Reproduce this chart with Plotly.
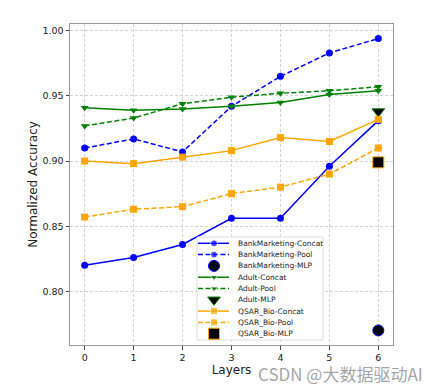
import plotly.graph_objects as go

layers = [0, 1, 2, 3, 4, 5, 6]
bank_concat = [0.820, 0.826, 0.836, 0.856, 0.856, 0.896, 0.931]
bank_pool = [0.910, 0.917, 0.907, 0.942, 0.965, 0.983, 0.994]
bank_mlp = 0.770
adult_concat = [0.941, 0.939, 0.940, 0.942, 0.945, 0.951, 0.954]
adult_pool = [0.927, 0.933, 0.944, 0.949, 0.952, 0.954, 0.957]
adult_mlp = 0.938
qsar_concat = [0.900, 0.898, 0.903, 0.908, 0.918, 0.915, 0.932]
qsar_pool = [0.857, 0.863, 0.865, 0.875, 0.880, 0.890, 0.910]
qsar_mlp = 0.899
y_ticks = [0.80, 0.85, 0.90, 0.95, 1.00]

BLUE, GREEN, ORANGE = "#0000ff", "#008000", "#ffa500"
DASH = "5px,2.5px"

# (name, values, colour, dash, symbol, kind)
series = [
    ("BankMarketing-Concat", bank_concat, BLUE, "solid", "circle", "line"),
    ("BankMarketing-Pool", bank_pool, BLUE, DASH, "circle", "line"),
    ("BankMarketing-MLP", bank_mlp, BLUE, None, "circle", "mlp"),
    ("Adult-Concat", adult_concat, GREEN, "solid", "triangle-down", "line"),
    ("Adult-Pool", adult_pool, GREEN, DASH, "triangle-down", "line"),
    ("Adult-MLP", adult_mlp, GREEN, None, "triangle-down", "mlp"),
    ("QSAR_Bio-Concat", qsar_concat, ORANGE, "solid", "square", "line"),
    ("QSAR_Bio-Pool", qsar_pool, ORANGE, DASH, "square", "line"),
    ("QSAR_Bio-MLP", qsar_mlp, ORANGE, None, "square", "mlp"),
]

fig = go.Figure()

for name, vals, color, dash, symbol, kind in series:
    if kind == "line":
        fig.add_trace(go.Scatter(
            x=layers, y=vals, name=name, mode="lines+markers", showlegend=False,
            line=dict(color=color, width=1.5, dash=dash),
            marker=dict(color=color, symbol=symbol, size=7),
        ))
    else:
        fig.add_trace(go.Scatter(
            x=[layers[-1]], y=[vals], name=name, mode="markers", showlegend=False,
            marker=dict(color="black", symbol=symbol, size=11,
                        line=dict(color=color, width=1)),
        ))

# ---- compact legend (overlay axes in pixel units of the plot area) ----
PX0, PX1, PY0, PY1 = 70, 393, 24, 345
box_x0, box_x1, box_y0, box_y1 = 197, 323, 237, 340
fig.add_trace(go.Scatter(
    x=[box_x0, box_x1, box_x1, box_x0, box_x0],
    y=[box_y0, box_y0, box_y1, box_y1, box_y0],
    xaxis="x2", yaxis="y2", mode="lines", fill="toself",
    fillcolor="rgba(255,255,255,0.85)", line=dict(color="#dcdcdc", width=1),
    showlegend=False, hoverinfo="skip",
))
row0, row_h = 243.3, 11.3
for i, (name, vals, color, dash, symbol, kind) in enumerate(series):
    yy = row0 + i * row_h
    if kind == "line":
        fig.add_trace(go.Scatter(
            x=[198, 214, 229], y=[yy, yy, yy], xaxis="x2", yaxis="y2",
            mode="lines+markers", showlegend=False, hoverinfo="skip",
            line=dict(color=color, width=1.5, dash=dash),
            marker=dict(color=color, symbol=symbol, size=[0, 7, 0]),
        ))
    else:
        fig.add_trace(go.Scatter(
            x=[214], y=[yy], xaxis="x2", yaxis="y2", mode="markers",
            showlegend=False, hoverinfo="skip",
            marker=dict(color="black", symbol=symbol, size=11,
                        line=dict(color=color, width=1)),
        ))
    fig.add_annotation(text=name, xref="x2", yref="y2", x=236, y=yy,
                       xanchor="left", yanchor="middle", showarrow=False,
                       font=dict(size=7.5, color="#222", family="DejaVu Sans"))

axis_common = dict(
    showgrid=True, gridcolor="#d3d3d3", griddash="3px,2px", gridwidth=1,
    showline=True, linecolor="#999999", linewidth=1, mirror=True,
    ticks="outside", ticklen=3.5, tickcolor="#444", zeroline=False,
    tickfont=dict(family="DejaVu Sans", size=9.5, color="#222"),
)

fig.update_layout(
    width=432, height=382,
    margin=dict(l=62, r=47, t=16, b=45),
    plot_bgcolor="white", paper_bgcolor="white",
    font=dict(family="DejaVu Sans", color="#222"),
    xaxis=dict(range=[-0.3, 6.3], tickvals=layers,
               title=dict(text="Layers", font=dict(size=12), standoff=2),
               **axis_common),
    yaxis=dict(range=[0.7588, 1.0052], tickvals=y_ticks,
               ticktext=[f"{v:.2f}" for v in y_ticks],
               title=dict(text="Normalized Accuracy", font=dict(size=12), standoff=2),
               **axis_common),
    xaxis2=dict(overlaying="x", range=[PX0, PX1], visible=False, fixedrange=True),
    yaxis2=dict(overlaying="y", range=[PY1, PY0], visible=False, fixedrange=True),
    showlegend=False,
)

fig.add_annotation(text="CSDN @大数据驱动AI", xref="paper", yref="paper",
                   x=1.099, y=-0.09, xanchor="right", yanchor="middle", showarrow=False,
                   font=dict(size=17, color="rgba(140,140,140,0.8)", family="Noto Sans CJK SC"))

fig.write_html("out.html")
